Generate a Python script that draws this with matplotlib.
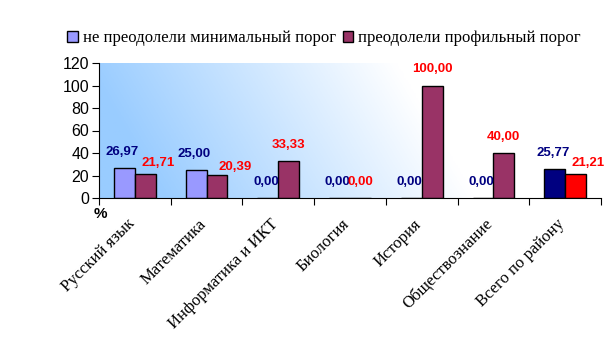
import numpy as np
import matplotlib
matplotlib.use('Agg')
import matplotlib.pyplot as plt
from matplotlib.patches import Patch

# data
subjects = ['Русский язык', 'Математика', 'Информатика и ИКТ', 'Биология',
            'История', 'Обществознание', 'Всего по району']
not_min = [26.97, 25.00, 0.00, 0.00, 0.00, 0.00, 25.77]
profile = [21.71, 20.39, 33.33, 0.00, 100.00, 40.00, 21.21]
series_names = ['не преодолели минимальный порог', 'преодолели профильный порог']

# label nudges in pixels (dx, dy) where labels were shifted to avoid overlap
nudge_red = {0: (13, -5), 1: (18, -8), 6: (13, -5)}

fig = plt.figure(figsize=(6.16, 3.53), dpi=100)
ax = fig.add_axes([99/616, 1-198/353, 502/616, 135/353])

# gradient background: blue on the left fading to white
nx, ny = 300, 60
xx, yy = np.meshgrid(np.linspace(0, 1, nx), np.linspace(0, 1, ny))
t = np.clip((xx - 0.05) / 0.62 + (yy - 0.5) * 0.25, 0, 1)
blue = np.array([0.60, 0.80, 1.0])
img = blue[None, None, :] * (1 - t[..., None]) + np.ones(3)[None, None, :] * t[..., None]
ax.imshow(img, extent=[-0.5, len(subjects) - 0.5, 0, 120], aspect='auto',
          origin='lower', zorder=0)

x = np.arange(len(subjects))
w = 0.29
c1 = ['#9999ff'] * 6 + ['#000080']
c2 = ['#993366'] * 6 + ['#ff0000']
ax.bar(x - w/2, not_min, w, color=c1, edgecolor='black', linewidth=1, zorder=2)
ax.bar(x + w/2, profile, w, color=c2, edgecolor='black', linewidth=1, zorder=2)

lab_font = dict(family='Liberation Sans', weight='bold', fontsize=9.5)
for i in range(len(subjects)):
    v = not_min[i]
    ax.annotate(f'{v:.2f}'.replace('.', ','), (x[i] - w/2, v), xytext=(-2, 16),
                textcoords='offset pixels', ha='center', va='center',
                color='#000080', zorder=4, **lab_font)
    v = profile[i]
    dx, dy = nudge_red.get(i, (0, 0))
    ax.annotate(f'{v:.2f}'.replace('.', ','), (x[i] + w/2, v), xytext=(dx, 16 + dy),
                textcoords='offset pixels', ha='center', va='center',
                color='#ff0000', zorder=4, **lab_font)

ax.set_xlim(-0.5, len(subjects) - 0.5)
ax.set_ylim(0, 120)
ax.set_yticks(range(0, 121, 20))
for lbl in ax.get_yticklabels():
    lbl.set_family('Liberation Sans')
    lbl.set_fontsize(11.5)
ax.set_xticks(np.arange(-0.5, len(subjects), 1.0))
ax.set_xticklabels([])
# category labels sit a little left of the category centre
ax.set_xticks(x - 0.12, minor=True)
ax.set_xticklabels(subjects, minor=True, rotation=45, ha='right',
                   rotation_mode='anchor', family='Liberation Serif', fontsize=12)
ax.tick_params(axis='x', which='minor', length=0, pad=13)
ax.tick_params(axis='x', which='major', length=5, direction='out')
ax.tick_params(axis='y', length=5, direction='out', pad=2)
ax.spines['top'].set_visible(False)
ax.spines['right'].set_visible(False)

fig.text(100/616, 1-214/353, '%', ha='center', va='center',
         family='Liberation Sans', weight='bold', fontsize=11)

handles = [Patch(facecolor='#9999ff', edgecolor='black'),
           Patch(facecolor='#993366', edgecolor='black')]
fig.legend(handles, series_names, loc='center', bbox_to_anchor=(324/616, 1-38/353),
           ncol=2, frameon=False, prop={'family': 'Liberation Serif', 'size': 12},
           handlelength=0.65, handleheight=0.65, handletextpad=0.3, columnspacing=0.4)

fig.savefig('out.png', dpi=100)
